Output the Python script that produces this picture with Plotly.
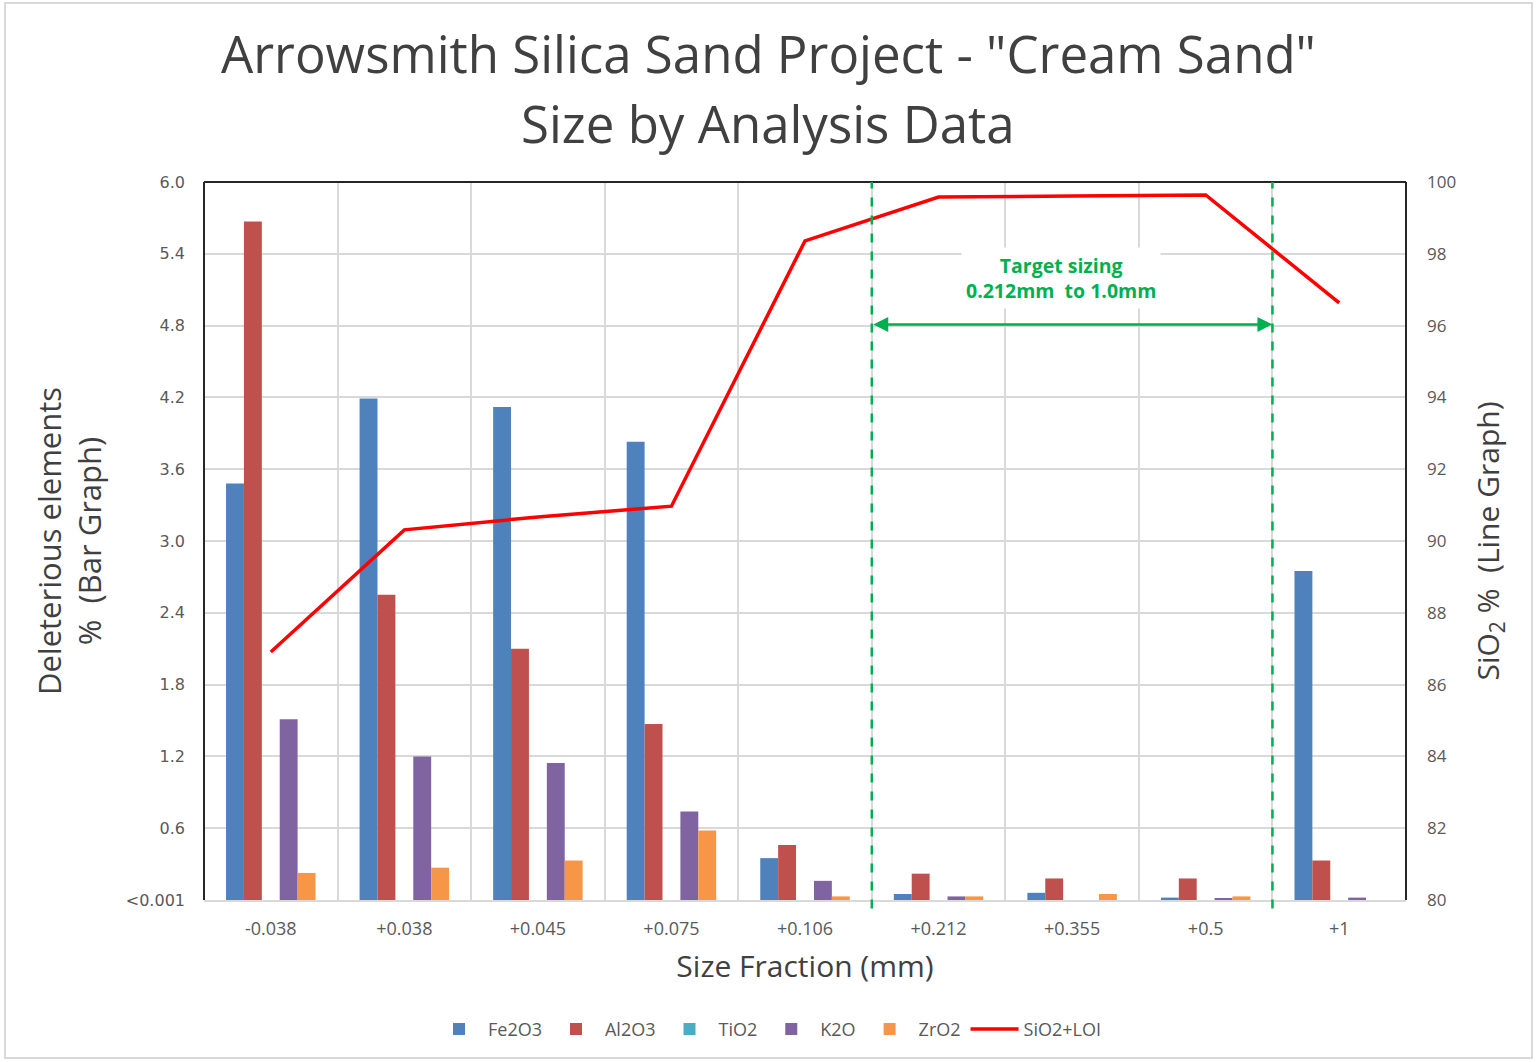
import plotly.graph_objects as go

categories = ["-0.038", "+0.038", "+0.045", "+0.075", "+0.106", "+0.212", "+0.355", "+0.5", "+1"]
fe2o3 = [3.48, 4.19, 4.12, 3.83, 0.35, 0.05, 0.06, 0.02, 2.75]
al2o3 = [5.67, 2.55, 2.10, 1.47, 0.46, 0.22, 0.18, 0.18, 0.33]
tio2 = [0, 0, 0, 0, 0, 0, 0, 0, 0]
k2o = [1.51, 1.20, 1.145, 0.74, 0.16, 0.03, 0, 0.015, 0.02]
zro2 = [0.226, 0.27, 0.33, 0.58, 0.03, 0.03, 0.05, 0.03, 0]
sio2_loi = [86.91, 90.31, 90.67, 90.97, 98.36, 99.58, 99.61, 99.64, 96.63]

left_ticks = [0, 0.6, 1.2, 1.8, 2.4, 3.0, 3.6, 4.2, 4.8, 5.4, 6.0]
left_labels = ["<0.001", "0.6", "1.2", "1.8", "2.4", "3.0", "3.6", "4.2", "4.8", "5.4", "6.0"]
right_ticks = [80, 82, 84, 86, 88, 90, 92, 94, 96, 98, 100]

FONT = "Open Sans"
TICKFONT = "DejaVu Sans"
TICK = "#595959"
GREEN = "#00B050"

fig = go.Figure()
series = [("Fe2O3", fe2o3, "#4F81BD"), ("Al2O3", al2o3, "#C0504D"), ("TiO2", tio2, "#4BACC6"),
          ("K2O", k2o, "#8064A2"), ("ZrO2", zro2, "#F79646")]
for name, vals, col in series:
    fig.add_trace(go.Bar(x=categories, y=vals, name=name, marker=dict(color=col, line=dict(width=0))))

fig.add_trace(go.Scatter(x=categories, y=sio2_loi, name="SiO2+LOI", mode="lines",
                         line=dict(color="#FF0000", width=3.5), yaxis="y2"))

fig.update_layout(
    width=1536, height=1062,
    paper_bgcolor="white", plot_bgcolor="white",
    font=dict(family=FONT, color=TICK),
    margin=dict(l=204, r=130, t=182, b=162),
    barmode="group", bargap=0.33, bargroupgap=0,
    xaxis=dict(type="category", range=[-0.5, 8.5], tickson="boundaries", showgrid=True,
               gridcolor="#D9D9D9", gridwidth=1.5, ticks="", showline=True, linecolor="#D9D9D9", linewidth=2,
               tickfont=dict(size=18, color=TICK, family=FONT), ticklabelstandoff=11,
               title=dict(text="Size Fraction (mm)", font=dict(size=30, color="#404040"), standoff=17)),
    yaxis=dict(range=[0, 6], tickvals=left_ticks, ticktext=left_labels, showgrid=True,
               gridcolor="#D9D9D9", gridwidth=1.5, zeroline=False, ticks="",
               tickfont=dict(size=16, color=TICK, family=TICKFONT), ticklabelstandoff=18,
               title=dict(text="Deleterious elements<br>%  (Bar Graph)", font=dict(size=31, color="#404040"),
                          standoff=14)),
    yaxis2=dict(range=[80, 100], tickvals=right_ticks, overlaying="y", side="right", showgrid=False,
                zeroline=False, ticks="", tickfont=dict(size=17, color=TICK, family=FONT),
                ticklabelstandoff=20,
                title=dict(text="SiO<sub>2</sub> %  (Line Graph)", font=dict(size=30, color="#404040"),
                           standoff=22)),
    legend=dict(orientation="h", x=(768 - 204) / 1202, xanchor="center", y=-0.18, yanchor="middle",
                font=dict(size=18, color=TICK), traceorder="normal", itemwidth=48),
    showlegend=True,
)

cx = (768 - 204) / 1202
fig.add_annotation(x=cx, xref="paper", y=1 + (182 - 53) / 718, yref="paper", showarrow=False,
                   text='Arrowsmith Silica Sand Project - "Cream Sand"', xanchor="center", yanchor="middle",
                   font=dict(size=51, color="#404040", family=FONT))
fig.add_annotation(x=cx, xref="paper", y=1 + (182 - 123) / 718, yref="paper", showarrow=False,
                   text="Size by Analysis Data", xanchor="center", yanchor="middle",
                   font=dict(size=51, color="#404040", family=FONT))

shapes = []
for x0, y0, x1, y1 in [(0, 0, 0, 1), (0, 1, 1, 1), (1, 0, 1, 1)]:
    shapes.append(dict(type="line", xref="paper", yref="paper", x0=x0, y0=y0, x1=x1, y1=y1,
                       line=dict(color="#262626", width=2)))
for xv in [4.5, 7.5]:
    shapes.append(dict(type="line", xref="x", yref="paper", x0=xv, x1=xv, y0=-0.012, y1=1,
                       line=dict(color=GREEN, width=2.5, dash="dash")))
shapes.append(dict(type="rect", xref="paper", yref="paper", x0=-199 / 1202, x1=1 + 126 / 1202,
                   y0=-158 / 718, y1=1 + 179 / 718, line=dict(color="#D9D9D9", width=2), layer="below"))
fig.update_layout(shapes=shapes)

fig.add_annotation(x=7.5, y=4.81, ax=4.5, ay=4.81, xref="x", yref="y", axref="x", ayref="y",
                   text="", showarrow=True, arrowhead=2, arrowside="end+start", arrowsize=1.2,
                   arrowwidth=2.5, arrowcolor=GREEN)
fig.add_annotation(x=5.92, y=5.2, xref="x", yref="y", showarrow=False,
                   text="<b>Target sizing<br>0.212mm  to 1.0mm</b>",
                   font=dict(size=19.5, color=GREEN, family=FONT), bgcolor="white",
                   borderpad=4)

fig.write_html("out.html", config={"displayModeBar": False},
               post_script="document.body.style.margin='0px';")
